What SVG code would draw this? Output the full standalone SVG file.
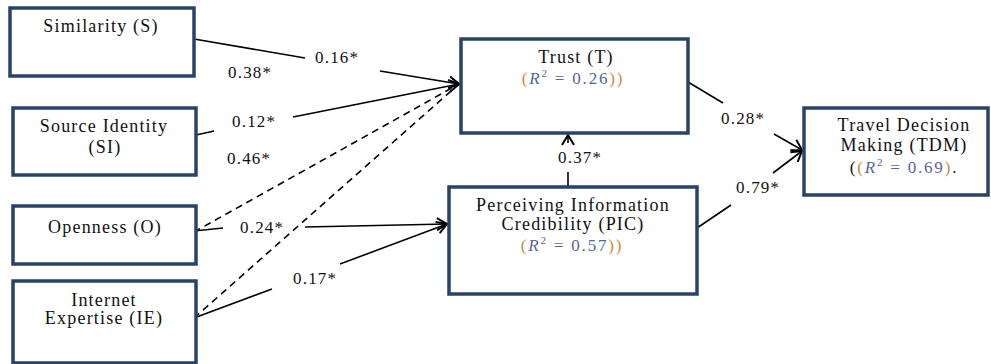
<svg xmlns="http://www.w3.org/2000/svg" width="991" height="364" viewBox="0 0 991 364">
<defs>
<style>
.box{fill:#fff;stroke:#27436a;stroke-width:3.5}
.t{font-family:"Liberation Serif","Times New Roman",serif;font-size:18px;letter-spacing:1.2px;fill:#111;text-anchor:middle}
.lb{font-family:"Liberation Serif","Times New Roman",serif;font-size:17px;letter-spacing:1.2px;fill:#111}
.m{font-family:"Liberation Serif","Times New Roman",serif;font-size:17px;letter-spacing:1.8px;fill:#52679a;text-anchor:middle}
.o{fill:#c98b3c}
.k{fill:#111}
.ln{stroke:#000;stroke-width:1.6;fill:none}
.d{stroke:#000;stroke-width:1.6;fill:none;stroke-dasharray:7 5}
</style>
<marker id="arr" markerWidth="14" markerHeight="14" refX="11" refY="7" orient="auto" markerUnits="userSpaceOnUse">
<path d="M1,1 L11,7 L1,13" fill="none" stroke="#000" stroke-width="2"/>
</marker>
</defs>

<g id="connectors">
<line class="ln" x1="194" y1="39" x2="305" y2="58"/>
<line class="ln" x1="380" y1="71" x2="459" y2="84" marker-end="url(#arr)"/>
<line class="ln" x1="196" y1="135" x2="214" y2="131"/>
<line class="ln" x1="293" y1="117" x2="459" y2="84" marker-end="url(#arr)"/>
<line class="d" x1="194" y1="232" x2="459" y2="84"/>
<line class="d" x1="194" y1="318" x2="459" y2="84"/>
<line class="ln" x1="194" y1="231" x2="223" y2="228"/>
<line class="ln" x1="305" y1="227" x2="447" y2="224" marker-end="url(#arr)"/>
<line class="ln" x1="194" y1="318" x2="272" y2="289"/>
<line class="ln" x1="340" y1="264" x2="447" y2="224" marker-end="url(#arr)"/>
<line class="ln" x1="568" y1="186" x2="568" y2="172"/>
<line class="ln" x1="568" y1="143" x2="568" y2="135" marker-end="url(#arr)"/>
<line class="ln" x1="688" y1="82" x2="723" y2="103"/>
<line class="ln" x1="774" y1="134" x2="802" y2="150" marker-end="url(#arr)"/>
<line class="ln" x1="697" y1="228" x2="731" y2="205"/>
<line class="ln" x1="773" y1="173" x2="802" y2="151" marker-end="url(#arr)"/>
</g>

<g id="edge-labels">
<text class="lb" x="315" y="63">0.16*</text>
<text class="lb" x="228" y="78">0.38*</text>
<text class="lb" x="232" y="127">0.12*</text>
<text class="lb" x="227" y="164">0.46*</text>
<text class="lb" x="240" y="233">0.24*</text>
<text class="lb" x="293" y="284">0.17*</text>
<text class="lb" x="558" y="163">0.37*</text>
<text class="lb" x="721" y="124">0.28*</text>
<text class="lb" x="736" y="193">0.79*</text>
</g>

<g id="node-S">
<rect class="box" x="10" y="8" width="184" height="68"/>
<text class="t" x="101" y="32">Similarity (S)</text>
</g>
<g id="node-SI">
<rect class="box" x="13" y="108" width="183" height="67"/>
<text class="t" x="104" y="132">Source Identity</text>
<text class="t" x="105" y="153">(SI)</text>
</g>
<g id="node-O">
<rect class="box" x="13" y="206" width="183" height="58"/>
<text class="t" x="105" y="233">Openness (O)</text>
</g>
<g id="node-IE">
<rect class="box" x="13" y="281" width="183" height="82"/>
<text class="t" x="104" y="306">Internet</text>
<text class="t" x="104" y="324">Expertise (IE)</text>
</g>
<g id="node-T">
<rect class="box" x="461" y="39" width="227" height="94"/>
<text class="t" x="576" y="63">Trust (T)</text>
<text class="m" x="573" y="84"><tspan class="o">(</tspan><tspan font-style="italic">R</tspan><tspan font-size="11" dy="-7">2</tspan><tspan dy="7"> = 0.26</tspan><tspan class="o">))</tspan></text>
</g>
<g id="node-PIC">
<rect class="box" x="449" y="187" width="248" height="107"/>
<text class="t" x="573" y="211">Perceiving Information</text>
<text class="t" x="573" y="230">Credibility (PIC)</text>
<text class="m" x="572" y="251"><tspan class="o">(</tspan><tspan font-style="italic">R</tspan><tspan font-size="11" dy="-7">2</tspan><tspan dy="7"> = 0.57</tspan><tspan class="o">))</tspan></text>
</g>
<g id="node-TDM">
<rect class="box" x="804" y="108" width="184" height="87"/>
<text class="t" x="904" y="131">Travel Decision</text>
<text class="t" x="904" y="151">Making (TDM)</text>
<text class="m" x="904" y="173"><tspan class="k">(</tspan><tspan class="o">(</tspan><tspan font-style="italic">R</tspan><tspan font-size="11" dy="-7">2</tspan><tspan dy="7"> = 0.69</tspan><tspan class="o">)</tspan><tspan class="k">.</tspan></text>
</g>
</svg>
